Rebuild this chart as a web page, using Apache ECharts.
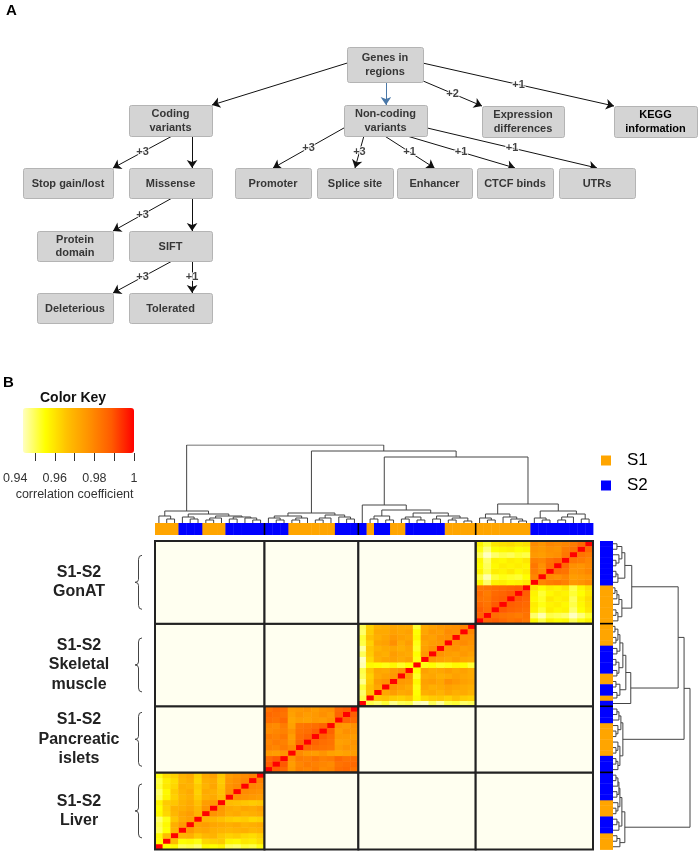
<!DOCTYPE html>
<html><head><meta charset="utf-8">
<script src="https://cdn.jsdelivr.net/npm/echarts@6/dist/echarts.min.js"></script>
<style>html,body{margin:0;padding:0;background:#fff}#c{width:698px;height:851px}</style>
</head><body><div id="c"></div>
<script>
// ================= DATA =================
// ---- Panel A : flow chart ----
const nodeNames = ['Genes in\nregions', 'Coding\nvariants', 'Non-coding\nvariants', 'Expression\ndifferences',
  'KEGG\ninformation', 'Stop gain/lost', 'Missense', 'Promoter', 'Splice site', 'Enhancer', 'CTCF binds',
  'UTRs', 'Protein\ndomain', 'SIFT', 'Deleterious', 'Tolerated'];
const edgeList = [[0,1,''],[0,2,''],[0,3,'+2'],[0,4,'+1'],[1,5,'+3'],[1,6,''],[6,12,'+3'],[6,13,''],
  [13,14,'+3'],[13,15,'+1'],[2,7,'+3'],[2,8,'+3'],[2,9,'+1'],[2,10,'+1'],[2,11,'+1']];

// ---- Panel B : correlation heatmap ----
const tissueNames = ['S1-S2\nLiver', 'S1-S2\nPancreatic\nislets', 'S1-S2\nSkeletal\nmuscle', 'S1-S2\nGonAT'];
const tissueSizes = [14, 12, 15, 15];
const groupNames = ['S1', 'S2'];
const sampleGroups = [
  'S1','S1','S1','S2','S2','S2','S1','S1','S1','S2','S2','S2','S2','S2',
  'S2','S2','S2','S1','S1','S1','S1','S1','S1','S2','S2','S2',
  'S2','S1','S2','S2','S1','S1','S2','S2','S2','S2','S2','S1','S1','S1','S1',
  'S1','S1','S1','S1','S1','S1','S1','S2','S2','S2','S2','S2','S2','S2','S2'];
// lower triangles (row i holds correlations with samples 0..i-1 of the same tissue), diagonal = 1
const liverCorr = [
  [0.956],
  [0.957,0.968],
  [0.951,0.956,0.970],
  [0.952,0.957,0.971,0.976],
  [0.950,0.955,0.966,0.972,0.974],
  [0.957,0.963,0.969,0.973,0.975,0.970],
  [0.956,0.964,0.970,0.971,0.973,0.969,0.977],
  [0.958,0.965,0.966,0.970,0.972,0.967,0.975,0.976],
  [0.951,0.958,0.964,0.969,0.971,0.965,0.971,0.972,0.968],
  [0.950,0.957,0.965,0.970,0.972,0.964,0.972,0.971,0.967,0.978],
  [0.953,0.960,0.963,0.971,0.970,0.965,0.970,0.973,0.966,0.977,0.979],
  [0.952,0.959,0.962,0.969,0.971,0.963,0.971,0.972,0.965,0.976,0.978,0.980],
  [0.955,0.962,0.964,0.970,0.972,0.964,0.972,0.974,0.966,0.975,0.977,0.979,0.981]];
const pancreasCorr = [
  [0.988],
  [0.986,0.989],
  [0.976,0.975,0.977],
  [0.981,0.980,0.982,0.979],
  [0.980,0.982,0.981,0.976,0.986],
  [0.982,0.981,0.983,0.975,0.985,0.987],
  [0.979,0.980,0.981,0.977,0.984,0.985,0.988],
  [0.980,0.979,0.982,0.974,0.983,0.984,0.985,0.987],
  [0.985,0.984,0.986,0.973,0.975,0.974,0.976,0.975,0.977],
  [0.986,0.985,0.984,0.974,0.977,0.975,0.976,0.978,0.976,0.987],
  [0.984,0.986,0.985,0.975,0.976,0.977,0.975,0.977,0.978,0.986,0.988]];
const muscleCorr = [
  [0.952],
  [0.950,0.966],
  [0.953,0.967,0.973],
  [0.948,0.965,0.975,0.977],
  [0.951,0.964,0.972,0.974,0.976],
  [0.952,0.966,0.973,0.972,0.975,0.977],
  [0.946,0.957,0.956,0.955,0.957,0.954,0.956],
  [0.945,0.963,0.971,0.973,0.974,0.972,0.974,0.955],
  [0.951,0.965,0.972,0.971,0.975,0.973,0.972,0.956,0.976],
  [0.947,0.966,0.970,0.972,0.973,0.971,0.973,0.954,0.974,0.977],
  [0.952,0.964,0.973,0.974,0.978,0.972,0.975,0.955,0.973,0.975,0.976],
  [0.953,0.967,0.971,0.973,0.976,0.974,0.973,0.957,0.975,0.974,0.977,0.978],
  [0.950,0.965,0.972,0.972,0.974,0.973,0.974,0.956,0.973,0.976,0.975,0.979,0.978],
  [0.951,0.964,0.970,0.971,0.973,0.972,0.972,0.953,0.972,0.974,0.976,0.977,0.978,0.980]];
const gonatCorr = [
  [0.987],
  [0.988,0.985],
  [0.986,0.984,0.989],
  [0.984,0.983,0.987,0.988],
  [0.985,0.982,0.986,0.987,0.989],
  [0.983,0.984,0.985,0.986,0.987,0.988],
  [0.957,0.950,0.958,0.959,0.957,0.958,0.960],
  [0.952,0.946,0.953,0.955,0.954,0.953,0.956,0.980],
  [0.958,0.952,0.959,0.958,0.960,0.957,0.959,0.982,0.979],
  [0.956,0.951,0.957,0.959,0.958,0.959,0.958,0.983,0.978,0.985],
  [0.957,0.950,0.958,0.957,0.959,0.958,0.960,0.981,0.980,0.984,0.986],
  [0.951,0.945,0.950,0.952,0.951,0.953,0.952,0.976,0.975,0.977,0.978,0.983],
  [0.955,0.949,0.956,0.957,0.958,0.956,0.957,0.977,0.976,0.978,0.977,0.982,0.984],
  [0.958,0.953,0.960,0.961,0.962,0.960,0.961,0.979,0.977,0.980,0.979,0.980,0.982,0.986]];
// dendrogram: [height, left, right], leaves are sample indices
const liverTree = [12,[7,0,[4,1,2]],[9,[6,3,[4,4,5]],[7,[5,[3,6,7],8],[6,[4,9,10],[5,11,[3,12,13]]]]]];
const pancreasTree = [10,[7,[5,14,[3,15,16]],[5,[3,17,18],19]],[8,[5,[3,20,21],22],[6,23,[4,24,25]]]];
const muscleTree = [18,26,[13,[7,[4,27,28],[3,29,30]],[10,[6,[4,31,32],[3,33,34]],[7,[4,35,36],[5,[3,37,38],[2,39,40]]]]]];
const gonatTree = [19,[9,[5,41,[3,42,43]],[6,44,[4,45,[2,46,47]]]],[12,[5,48,[3,49,50]],[9,[6,[3,51,52],53],[4,54,55]]]];
const rootHeights = [78, 72, 66];
// colour key
const keyMin = 0.945, keyMax = 1;
const keyTicks = [0.95, 0.96, 0.97, 0.98, 0.99, 1];
const keyLabels = [0.94, 0.96, 0.98, 1];

// ================= LAYOUT / STYLE =================
const FONT = '"Liberation Sans", Arial, sans-serif';
const nodeBoxes = [[347,47,423,82],[129,105,212,136],[344,105,427,136],[482,106,564,137],[614,106,697,137],
  [23,168,113,198],[129,168,212,198],[235,168,311,198],[317,168,393,198],[397,168,472,198],[477,168,553,198],
  [559,168,635,198],[37,231,113,261],[129,231,212,261],[37,293,113,323],[129,293,212,323]];
const edgePorts = [[0,0.46,1,0],[0.51,1,0.506,0],[1,0.97,0,0],[1,0.46,0,0],[0.52,1,1,0],[0.76,1,0.76,0],
  [0.52,1,1,0],[0.76,1,0.76,0],[0.52,1,1,0],[0.76,1,0.76,0],[0,0.74,0.5,0],[0.24,1,0.5,0],[0.49,1,0.5,0],
  [0.76,1,0.5,0],[1,0.74,0.5,0]];
const groupColors = {S1: '#FFA500', S2: '#0000FF'};
const heatColors = ['#FFFFC0', '#FFFF00', '#FFC000', '#FF9000', '#FF5A00', '#FF0000'];

// ================= BUILD =================
const nSamples = sampleGroups.length;
const sampleIds = sampleGroups.map((g, i) => g + '_' + (i + 1));
const blockStarts = [];
tissueSizes.reduce((s, n) => { blockStarts.push(s); return s + n; }, 0);
const corrBlocks = [liverCorr, pancreasCorr, muscleCorr, gonatCorr];
const heatData = [];
corrBlocks.forEach((tri, b) => {
  const s = blockStarts[b];
  for (let i = 0; i < tissueSizes[b]; i++) {
    heatData.push([s + i, s + i, 1]);
    for (let j = 0; j < i; j++) {
      const v = tri[i - 1][j];
      heatData.push([s + j, s + i, v]);
      heatData.push([s + i, s + j, v]);
    }
  }
});
const blockCells = [];
for (let bx = 0; bx < 4; bx++) for (let by = 0; by < 4; by++) {
  blockCells.push([blockStarts[bx], blockStarts[by], blockStarts[bx] + tissueSizes[bx] - 1,
    blockStarts[by] + tissueSizes[by] - 1, bx === by ? 1 : 0]);
}
const tissueRanges = blockStarts.map((s, b) => [s, s + tissueSizes[b] - 1]);
const fullTree = [rootHeights[0], liverTree, [rootHeights[1], pancreasTree, [rootHeights[2], muscleTree, gonatTree]]];
function dendroSegments(node, out) {
  if (typeof node === 'number') return {pos: node + 0.5, h: 0};
  const L = dendroSegments(node[1], out), R = dendroSegments(node[2], out);
  out.push([[L.pos, L.h], [L.pos, node[0]], [R.pos, node[0]], [R.pos, R.h]]);
  return {pos: (L.pos + R.pos) / 2, h: node[0]};
}
const segs = [];
dendroSegments(fullTree, segs);

function port(b, fx, fy) { return [b[0] + fx * (b[2] - b[0]), b[1] + fy * (b[3] - b[1])]; }
const edgeCoords = edgeList.map((e, k) => {
  const p = edgePorts[k];
  return [port(nodeBoxes[e[0]], p[0], p[1]), port(nodeBoxes[e[1]], p[2], p[3])];
});
const edgeLabelData = [];
edgeList.forEach((e, k) => {
  if (e[2]) {
    const c = edgeCoords[k];
    edgeLabelData.push([(c[0][0] + c[1][0]) / 2, (c[0][1] + c[1][1]) / 2, e[2]]);
  }
});

function barSeries(group, grid, vertical) {
  const idx = [];
  sampleGroups.forEach((g, i) => { if (g === group) idx.push([i]); });
  return {
    type: 'custom', name: group, xAxisIndex: grid, yAxisIndex: grid, data: idx,
    itemStyle: {color: groupColors[group]}, silent: true,
    renderItem(params, api) {
      const i = api.value(0);
      const a = vertical ? api.coord([0, i + 1]) : api.coord([i, 1]);
      const b = vertical ? api.coord([1, i]) : api.coord([i + 1, 0]);
      return {type: 'rect', shape: {x: a[0], y: a[1], width: b[0] - a[0] + (vertical ? 0 : 0.4),
        height: b[1] - a[1] + (vertical ? 0.4 : 0)}, style: {fill: groupColors[group]}};
    }
  };
}
function sepSeries(grid, vertical) {
  return {
    type: 'custom', xAxisIndex: grid, yAxisIndex: grid, data: blockStarts.slice(1).map(v => [v]), silent: true,
    renderItem(params, api) {
      const v = api.value(0);
      const a = vertical ? api.coord([0, v]) : api.coord([v, 1]);
      const b = vertical ? api.coord([1, v]) : api.coord([v, 0]);
      return {type: 'line', shape: {x1: a[0], y1: a[1], x2: b[0], y2: b[1]}, style: {stroke: '#000', lineWidth: 1.6}};
    }
  };
}

const option = {
  animation: false,
  title: [
    {text: 'A', left: 6, top: 3, padding: 0, textStyle: {fontSize: 15, fontWeight: 'bold', color: '#000', fontFamily: FONT}},
    {text: 'B', left: 3, top: 375, padding: 0, textStyle: {fontSize: 15, fontWeight: 'bold', color: '#000', fontFamily: FONT}},
    {text: 'Color Key', left: 40, top: 391, padding: 0, textStyle: {fontSize: 14, fontWeight: 'bold', color: '#111', fontFamily: FONT}}
  ],
  legend: {
    data: groupNames, orient: 'vertical', left: 601, top: 452, padding: 0, itemWidth: 10, itemHeight: 10, itemGap: 8,
    icon: 'rect', selectedMode: false,
    textStyle: {fontSize: 17, color: '#000', fontFamily: FONT, padding: [0, 0, 0, 11]}
  },
  visualMap: {
    type: 'continuous', seriesIndex: 6, min: keyMin, max: keyMax, orient: 'horizontal',
    left: 23, top: 408, itemWidth: 45, itemHeight: 111, padding: 0, calculable: false, hoverLink: false,
    inRange: {color: heatColors}, outOfRange: {color: '#FFFFF0'}
  },
  grid: [
    {left: 0, top: 0, width: 698, height: 380},
    {left: 13, top: 408, width: 121, height: 45},
    {left: 155, top: 445, width: 438, height: 78},
    {left: 155, top: 523, width: 438, height: 12},
    {left: 155, top: 541, width: 438, height: 308.5},
    {left: 600, top: 541, width: 13, height: 308.5},
    {left: 613, top: 541, width: 77, height: 308.5}
  ],
  xAxis: [
    {gridIndex: 0, type: 'value', min: 0, max: 698, show: false},
    {gridIndex: 1, type: 'value', min: 0.94, max: 1, interval: 0.02,
      axisLine: {show: false}, splitLine: {show: false},
      axisTick: {show: true, length: 8, customValues: keyTicks, lineStyle: {color: '#333'}},
      axisLabel: {customValues: keyLabels, margin: 19, fontSize: 12.5, color: '#333', fontFamily: FONT},
      name: 'correlation coefficient', nameLocation: 'middle', nameGap: 35,
      nameTextStyle: {fontSize: 12.5, color: '#333', fontFamily: FONT}},
    {gridIndex: 2, type: 'value', min: 0, max: nSamples, show: false},
    {gridIndex: 3, type: 'value', min: 0, max: nSamples, show: false},
    {gridIndex: 4, type: 'category', data: sampleIds, show: false},
    {gridIndex: 5, type: 'value', min: 0, max: 1, show: false},
    {gridIndex: 6, type: 'value', min: 0, max: rootHeights[0], show: false}
  ],
  yAxis: [
    {gridIndex: 0, type: 'value', min: 0, max: 380, inverse: true, show: false},
    {gridIndex: 1, type: 'value', min: 0, max: 1, show: false},
    {gridIndex: 2, type: 'value', min: 0, max: rootHeights[0], show: false},
    {gridIndex: 3, type: 'value', min: 0, max: 1, show: false},
    {gridIndex: 4, type: 'category', data: sampleIds, show: false},
    {gridIndex: 5, type: 'value', min: 0, max: nSamples, show: false},
    {gridIndex: 6, type: 'value', min: 0, max: nSamples, show: false}
  ],
  series: [
    // 0 boxes
    {type: 'custom', xAxisIndex: 0, yAxisIndex: 0, z: 3, silent: true,
      data: nodeBoxes.map(b => [(b[0] + b[2]) / 2, (b[1] + b[3]) / 2]),
      renderItem(params, api) {
        const b = nodeBoxes[params.dataIndex];
        const p0 = api.coord([b[0], b[1]]), p1 = api.coord([b[2], b[3]]);
        return {type: 'group', children: [
          {type: 'rect', shape: {x: p0[0] + 0.5, y: p0[1] + 0.5, width: p1[0] - p0[0], height: p1[1] - p0[1], r: 2},
            style: {fill: '#D4D4D4', stroke: '#B4B4B4', lineWidth: 1}},
          {type: 'text', style: {text: nodeNames[params.dataIndex], x: (p0[0] + p1[0]) / 2, y: (p0[1] + p1[1]) / 2 + 0.5,
            align: 'center', verticalAlign: 'middle', font: 'bold 11px ' + FONT,
            fill: params.dataIndex === 4 ? '#000' : '#363636', lineHeight: 13.5}}
        ]};
      }},
    // 1 edges
    {type: 'lines', coordinateSystem: 'cartesian2d', xAxisIndex: 0, yAxisIndex: 0, z: 2, silent: true,
      symbol: ['none', 'arrow'], symbolSize: 8,
      data: edgeCoords.map((c, k) => ({coords: c, lineStyle: {color: k === 1 ? '#4A78A8' : '#111', width: 1, opacity: 1}})),
      lineStyle: {width: 1}},
    // 2 edge labels
    {type: 'scatter', xAxisIndex: 0, yAxisIndex: 0, z: 4, silent: true, symbolSize: 1,
      itemStyle: {color: 'rgba(0,0,0,0)'}, data: edgeLabelData,
      label: {show: true, position: 'inside', formatter: p => p.value[2], fontSize: 11, fontWeight: 'bold',
        color: '#111', fontFamily: FONT, textBorderColor: '#fff', textBorderWidth: 2}},
    // 3 top dendrogram
    {type: 'lines', coordinateSystem: 'cartesian2d', xAxisIndex: 2, yAxisIndex: 2, polyline: true, silent: true,
      data: segs.map(s => ({coords: s})), lineStyle: {color: '#444', width: 1, opacity: 1}},
    // 4,5 top colour bar
    barSeries('S1', 3, false), barSeries('S2', 3, false),
    // 6 heatmap
    {type: 'heatmap', xAxisIndex: 4, yAxisIndex: 4, data: heatData, silent: true, itemStyle: {borderWidth: 0},
      emphasis: {disabled: true}},
    // 7 block overlay
    {type: 'custom', xAxisIndex: 4, yAxisIndex: 4, z: 5, silent: true, data: blockCells,
      renderItem(params, api) {
        const sz = api.size([1, 1]);
        const a = api.coord([api.value(0), api.value(3)]);
        const b = api.coord([api.value(2), api.value(1)]);
        return {type: 'rect', shape: {x: a[0] - sz[0] / 2, y: a[1] - sz[1] / 2,
          width: b[0] - a[0] + sz[0], height: b[1] - a[1] + sz[1]},
          style: {fill: api.value(4) ? 'none' : '#FFFFF0', stroke: '#222', lineWidth: 2}};
      }},
    // 8 tissue labels and braces
    {type: 'custom', xAxisIndex: 4, yAxisIndex: 4, z: 5, silent: true, clip: false, data: tissueRanges,
      renderItem(params, api) {
        const sz = api.size([1, 1]);
        const a = api.coord([0, api.value(0)]), b = api.coord([0, api.value(1)]);
        const gl = a[0] - sz[0] / 2;
        const cy = (a[1] + b[1]) / 2;
        const xt = gl - 20, xm = gl - 16.5, xa = gl - 13, y0 = cy - 27, y1 = cy + 27;
        const d = `M${xa},${y0} Q${xm},${y0} ${xm},${y0 + 4} L${xm},${cy - 3} Q${xm},${cy} ${xt},${cy} ` +
          `Q${xm},${cy} ${xm},${cy + 3} L${xm},${y1 - 4} Q${xm},${y1} ${xa},${y1}`;
        return {type: 'group', children: [
          {type: 'path', shape: {pathData: d}, style: {fill: 'none', stroke: '#444', lineWidth: 1}},
          {type: 'text', style: {text: tissueNames[params.dataIndex], x: gl - 76, y: cy, align: 'center',
            verticalAlign: 'middle', font: 'bold 16px ' + FONT, fill: '#222', lineHeight: 19.5}}
        ]};
      }},
    // 9,10 right colour bar
    barSeries('S1', 5, true), barSeries('S2', 5, true),
    // 11,12 separators
    sepSeries(3, false), sepSeries(5, true),
    // 13 right dendrogram
    {type: 'lines', coordinateSystem: 'cartesian2d', xAxisIndex: 6, yAxisIndex: 6, polyline: true, silent: true,
      data: segs.map(s => ({coords: s.map(p => [p[1], p[0]])})), lineStyle: {color: '#444', width: 1, opacity: 1}}
  ]
};
const chart = echarts.init(document.getElementById('c'), null, {renderer: 'canvas'});
chart.setOption(option);
</script></body></html>
